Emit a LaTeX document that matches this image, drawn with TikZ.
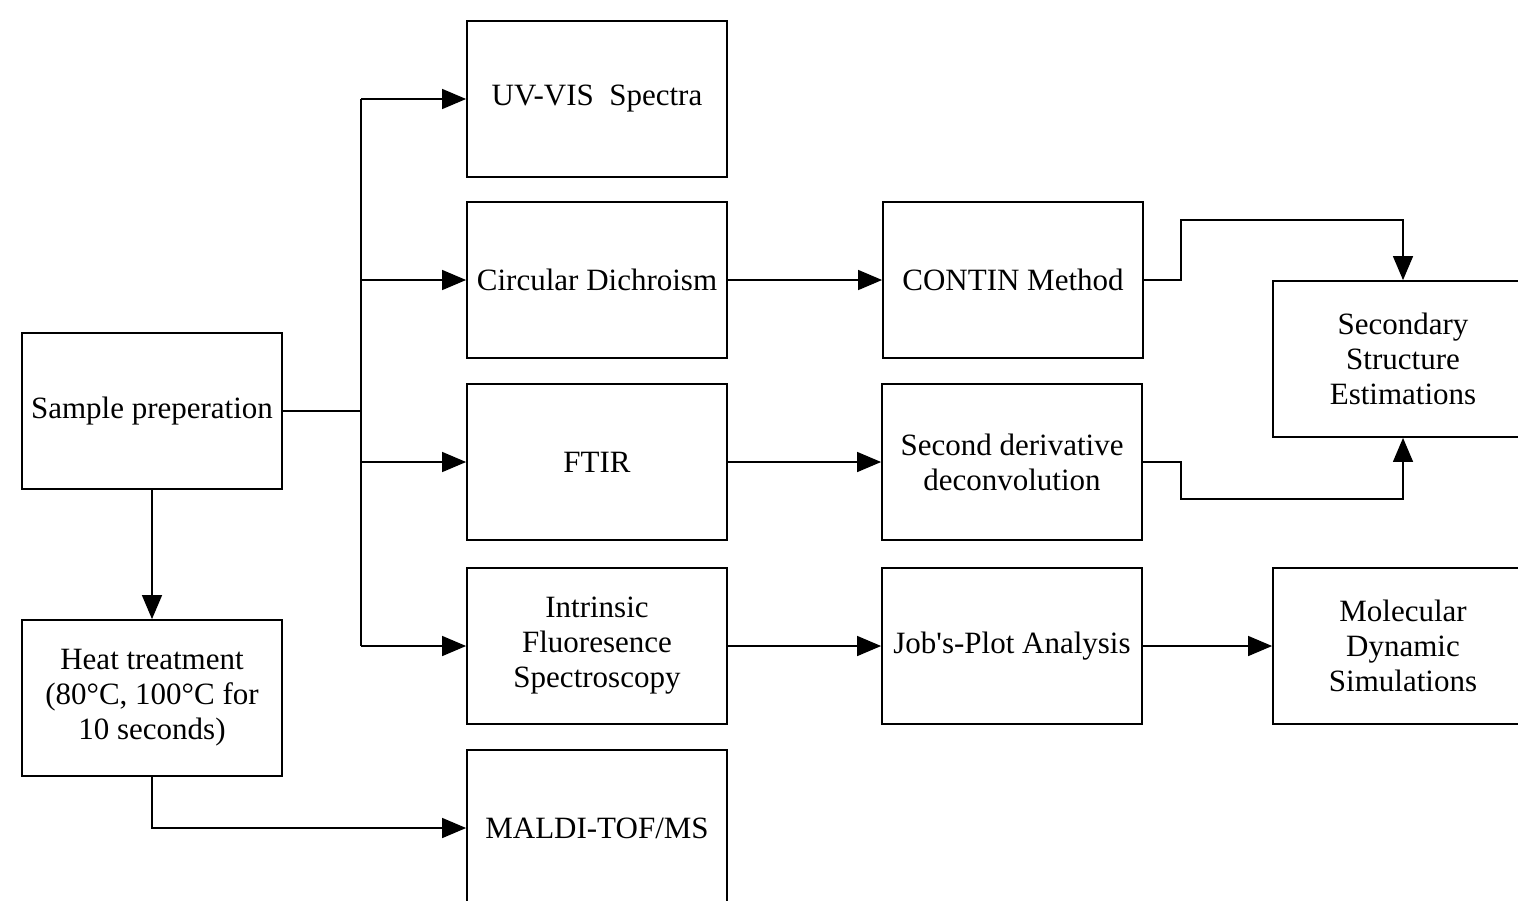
\documentclass[tikz,border=0pt]{standalone}
\usepackage{fontspec}
\setmainfont{Liberation Serif}[Ligatures=TeXOff]
\usetikzlibrary{arrows.meta}
\begin{document}
\begin{tikzpicture}[x=0.5pt,y=-0.5pt,
  box/.style={draw,line width=0.9pt,minimum width=130pt,minimum height=78pt,inner sep=0pt,align=center,font=\fontsize{15.5pt}{17.5pt}\selectfont},
  conn/.style={line width=0.7pt},
  arr/.style={line width=0.7pt,-{Triangle[length=12pt,width=10pt]}}]
\useasboundingbox (0,0) rectangle (1518,900);
\clip (0,0) rectangle (1518,900);
\node[box] (sample) at (152,411) {Sample preperation};
\node[box] (heat) at (152,698) {Heat treatment\\(80°C, 100°C for\\10 seconds)};
\node[box] (uv) at (597,99) {UV-VIS\ \ Spectra};
\node[box] (cd) at (597,280) {Circular Dichroism};
\node[box] (ftir) at (597,462) {FTIR};
\node[box] (ifs) at (597,646) {Intrinsic\\Fluoresence\\Spectroscopy};
\node[box] (maldi) at (597,828) {MALDI-TOF/MS};
\node[box] (contin) at (1013,280) {CONTIN Method};
\node[box] (sdd) at (1012,462) {Second derivative\\deconvolution};
\node[box] (jobs) at (1012,646) {Job's-Plot Analysis};
\node[box] (sse) at (1403,359) {Secondary\\Structure\\Estimations};
\node[box] (mds) at (1403,646) {Molecular\\Dynamic\\Simulations};
% bus
\coordinate (bj) at (361,411);
\coordinate (b1) at (361,99);
\coordinate (b2) at (361,280);
\coordinate (b3) at (361,462);
\coordinate (b4) at (361,646);
\draw[conn] (sample.east) -- (bj);
\draw[conn] (b1) -- (b4);
\draw[arr] (b1) -- (uv.west);
\draw[arr] (b2) -- (cd.west);
\draw[arr] (b3) -- (ftir.west);
\draw[arr] (b4) -- (ifs.west);
\draw[arr] (sample.south) -- (heat.north);
\draw[arr] (heat.south) |- (maldi.west);
\draw[arr] (cd.east) -- (contin.west);
\draw[arr] (ftir.east) -- (sdd.west);
\draw[arr] (ifs.east) -- (jobs.west);
\draw[arr] (jobs.east) -- (mds.west);
\coordinate (c1) at (1181,280);
\coordinate (c2) at (1181,220);
\coordinate (d1) at (1181,462);
\coordinate (d2) at (1181,499);
\draw[arr] (contin.east) -- (c1) -- (c2) -| (sse.north);
\draw[arr] (sdd.east) -- (d1) -- (d2) -| (sse.south);
\end{tikzpicture}
\end{document}
